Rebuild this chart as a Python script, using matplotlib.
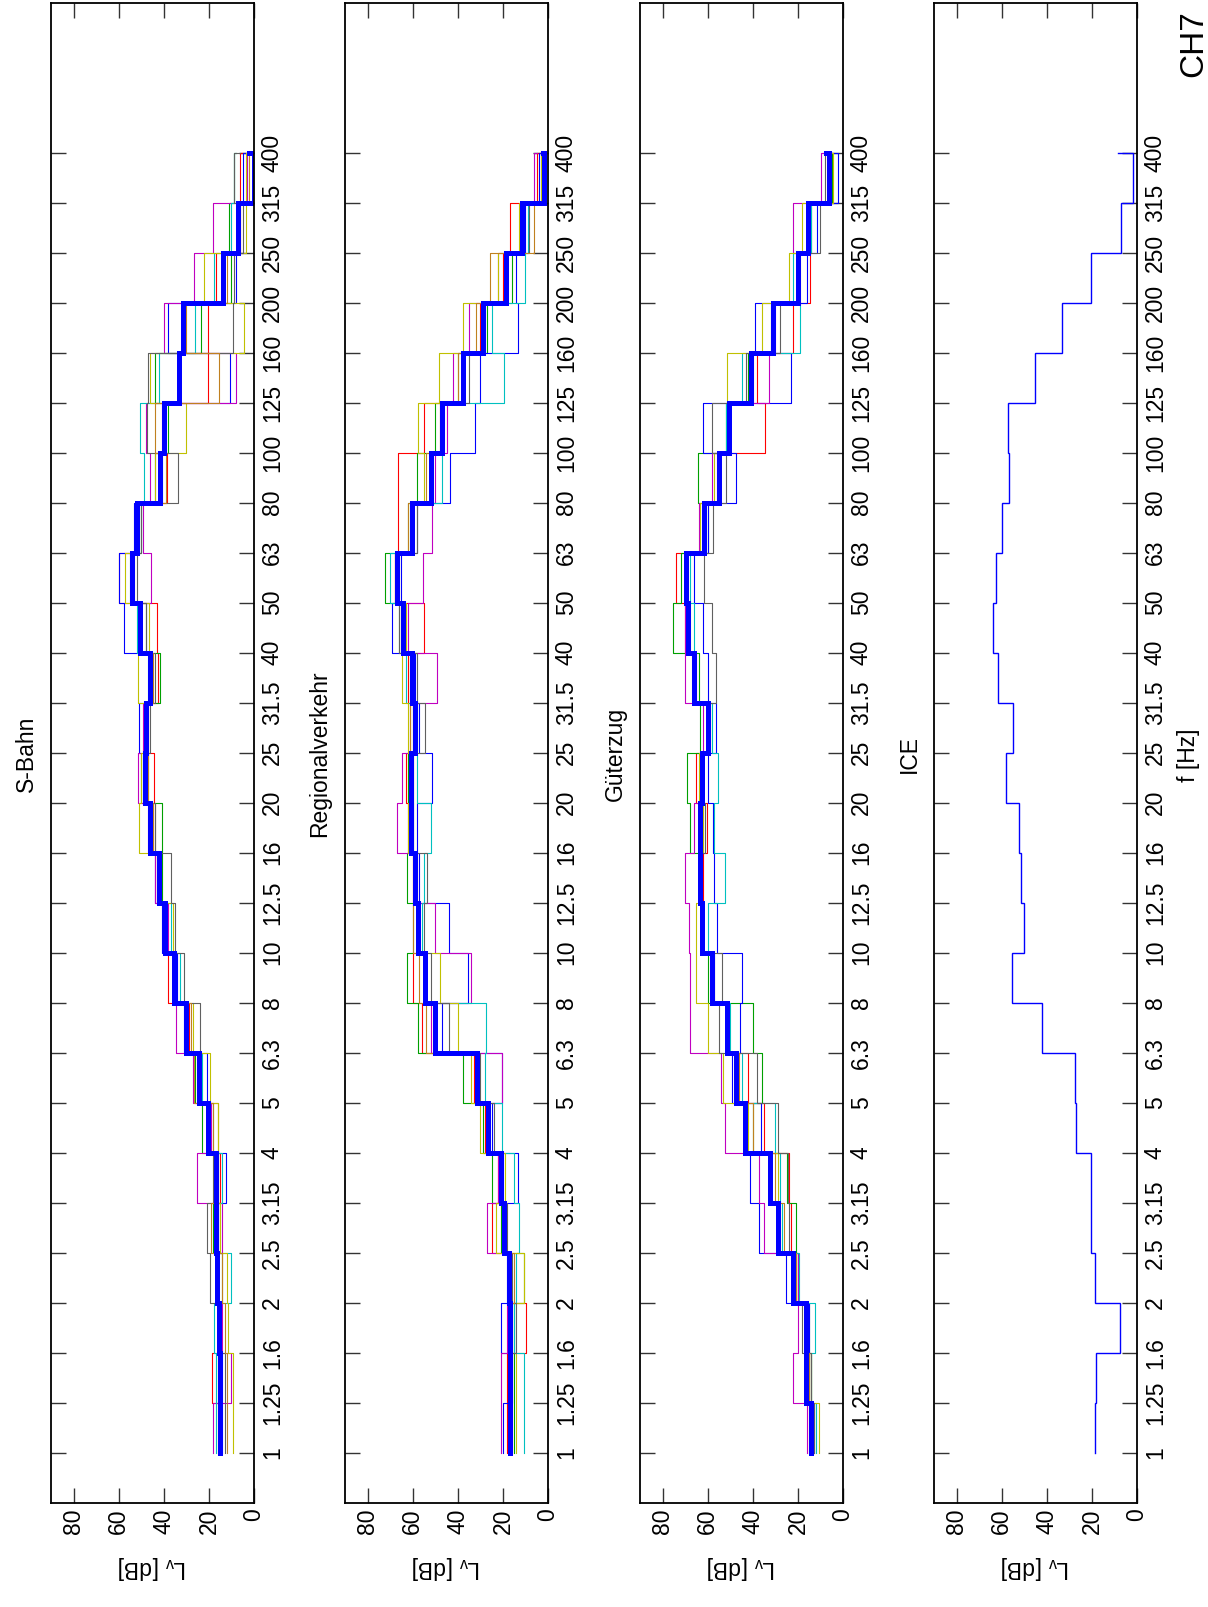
import numpy as np
import matplotlib
matplotlib.use('Agg')
import matplotlib.pyplot as plt

plt.rcParams['font.family'] = ['Liberation Sans', 'DejaVu Sans']
plt.rcParams['mathtext.default'] = 'regular'

# third-octave bands [Hz]
bands = ['1', '1.25', '1.6', '2', '2.5', '3.15', '4', '5', '6.3', '8', '10', '12.5', '16',
         '20', '25', '31.5', '40', '50', '63', '80', '100', '125', '160', '200', '250',
         '315', '400']

thin_colors = ['red', '#00a000', 'blue', '#c000c0', '#00c0c0', '#c0c000', '#606060', '#c08020']

# S-Bahn
sbahn_mean = [15, 15, 15.5, 16.3, 17, 17, 20.3, 24.4, 30.2, 35.6, 39.6, 42.2, 45.9, 48.4, 48.1,
              45.9, 50.4, 54, 51.9, 41.5, 40, 33.3, 31.6, 13.6, 7, 0, 2]
sbahn_red = [16, 18.5, 16, 17, 16, 15, 16, 25, 29, 38, 40, 43, 44, 44.4, 47, 42.5, 43, 60, 52,
             38.5, 41, 20.3, 20.4, 17, 6, 6, 4]
sbahn_green = [15, 16, 15, 14, 18, 17, 23, 26, 30, 36, 39, 41, 41, 48, 48, 41.8, 48, 55, 50, 41,
               38, 44, 23.7, 10.4, 11, 9, 8]
sbahn_blue = [14, 14, 15, 16, 17, 12.6, 20, 21, 31, 34, 41, 44, 46, 50, 51, 46, 57.8, 60, 53, 44,
              40, 10.8, 38, 8, 7, 5, 3]
sbahn_magenta = [18, 10.4, 14, 17, 14.4, 25.2, 19, 27, 34.8, 36, 38, 44, 47, 51.6, 49, 46, 50,
                 45.6, 49, 46, 48, 7.9, 40, 26.7, 18, 3, 2]
sbahn_cyan = [17, 17, 17.8, 10, 16, 14, 18, 23, 30, 33, 37, 42, 46, 49, 48, 47, 52, 54, 50, 48.6,
              50.4, 42, 26, 17.8, 10, 9, 8]
sbahn_olive = [9.3, 9.3, 11.6, 12, 15, 16, 16, 19.7, 27, 35, 36, 42, 51, 50, 47, 51.4, 46.4, 57,
               52, 44, 30, 46, 4.4, 22, 3.7, 3.7, 3]
sbahn_gray = [13, 13, 15, 19.3, 20.7, 18, 20, 24, 24, 31, 35, 36.6, 44, 47, 46, 44, 48, 52, 50,
              33.6, 47.4, 47, 9.3, 9, 5, 8.9, 6]
sbahn_orange = [12, 12, 13, 14, 19, 16, 18, 26.7, 28, 35, 40, 42, 45, 47, 48, 45, 50, 53, 52, 39,
                44, 15.3, 30, 12, 6, 2, 1]

# Regionalverkehr
rv_mean = [16.7, 16.7, 16.7, 17.2, 19.7, 20.9, 26.8, 31.6, 50.1, 54.5, 57.5, 59, 60.7, 60.7, 59,
           60.1, 64.1, 67.1, 60.4, 51.9, 47.1, 37.8, 28.9, 18.7, 11.6, 1.9, 2]
rv_red = [18, 18, 9.8, 17, 25, 22, 28, 33, 56, 60, 58, 60, 62, 63, 61, 62, 54.8, 68, 66.4, 66.4,
          55, 38, 30, 20, 16.7, 5, 2]
rv_green = [15, 15, 15, 10.8, 21, 24.9, 29, 37.8, 57.8, 62.7, 60, 62.7, 60, 62, 60, 61, 66, 72.3,
            62, 58, 50, 40, 27, 16, 12, 2, 1]
rv_blue = [20, 16, 20.9, 18, 20, 13.5, 25, 20.4, 46.8, 35.3, 44.1, 57, 58, 51.6, 57, 59, 69, 65,
           58, 43.4, 32.3, 30, 13.5, 14, 10, 4, 3]
rv_magenta = [20.9, 20.9, 18, 17, 27.1, 22, 27, 20.4, 52, 34, 50, 58, 67.1, 64.9, 60, 49.3, 62,
              55.6, 51.6, 50, 45, 42, 35, 22, 12, 6, 5]
rv_cyan = [10.8, 10.8, 15, 14, 13, 15, 20.4, 28, 27.6, 55, 56, 55, 52, 58, 58, 63, 64, 70, 60, 47,
           47, 19.7, 25, 10.1, 9, 3, 1]
rv_olive = [14, 14, 16, 10.8, 23, 19, 30, 34, 40.1, 48, 57, 59, 62, 61, 62, 64.9, 63, 68, 60, 55,
            57.8, 48.3, 37.8, 22, 13, 3, 2]
rv_gray = [17, 17, 14, 16, 18, 20, 24, 30, 44, 52, 55, 53.8, 60, 60, 54.5, 58, 66, 66, 58, 52, 48,
           35, 28, 18, 8.6, 2, 2]
rv_orange = [16, 16, 17, 15, 20, 21, 26, 32, 54, 57, 60, 60, 61, 60, 61, 60, 65, 68, 62, 54, 48,
             40, 32, 25.9, 6.4, 1, 0]

# Güterzug
gz_mean = [14.4, 16.3, 16.6, 22.3, 29, 32.4, 43.5, 47.5, 51.6, 58.2, 62.4, 63.6, 63.2, 62.7, 59.7,
           66.1, 68.6, 69.8, 61.7, 55, 50.5, 40.9, 30.9, 20.1, 15.6, 6.2, 7.5]
gz_red = [15, 15, 17, 21, 23, 24, 35, 42, 51, 57, 62, 62, 60.2, 65, 60, 65, 70, 74, 62, 56, 34.5,
          38, 22.3, 14.6, 14, 6, 6]
gz_green = [14, 14, 15, 20, 21, 25, 40, 35.7, 40, 60, 63, 64, 68, 69.1, 63.2, 64, 75.3, 72, 60,
            64.2, 52, 42, 32, 20, 16, 5, 5]
gz_blue = [13, 16, 15, 25.3, 37.1, 41.2, 36.4, 49, 45.6, 45, 55.7, 57, 57.7, 60, 56.5, 60, 62, 66,
           60, 47.5, 62.1, 23, 38.9, 16, 11.6, 2.2, 9]
gz_magenta = [16, 22.3, 20, 20, 34.9, 37.1, 52.5, 54.2, 68, 68, 68.4, 70.1, 66, 63, 62, 70.1, 70,
              70, 64, 58, 50, 33, 30, 20, 22, 9.7, 9]
gz_cyan = [12, 14, 12.6, 19.3, 27, 28, 30, 45, 50, 57, 60, 52.3, 57, 55.3, 58, 66, 66, 68, 62, 55,
           52, 45, 19, 22, 14, 6, 6]
gz_olive = [10.7, 14.1, 16, 21, 28, 29, 42, 53, 60, 65, 65, 64, 62, 64, 60, 67, 68, 70, 63.6, 57,
            50, 51.3, 36, 23.8, 18, 4.5, 7]
gz_gray = [13, 14, 18, 22, 24, 24.5, 29, 38.3, 55, 53.5, 62, 63, 61, 62, 59, 56.2, 58.2, 61.7,
           57.7, 52, 58, 43, 28, 20, 10, 8, 8]
gz_orange = [14, 15, 16, 21, 26, 30, 40, 46, 52, 58, 62, 64, 63, 62, 60, 66, 69, 69, 62, 55, 50,
             40, 31, 19, 15, 6, 7]

# ICE
ice_mean = [18.5, 18.1, 7.7, 18.8, 20.4, 20.3, 27.1, 27.7, 41.9, 55.6, 49.9, 51.6, 52.3, 58.2,
            54.8, 61.5, 64, 62.7, 60, 56.7, 57, 45.2, 33.3, 20.4, 7, 1.8, 8.6]

panels = [
    ('S-Bahn', sbahn_mean, [sbahn_red, sbahn_green, sbahn_blue, sbahn_magenta, sbahn_cyan,
                            sbahn_olive, sbahn_gray, sbahn_orange]),
    ('Regionalverkehr', rv_mean, [rv_red, rv_green, rv_blue, rv_magenta, rv_cyan, rv_olive,
                                  rv_gray, rv_orange]),
    ('Güterzug', gz_mean, [gz_red, gz_green, gz_blue, gz_magenta, gz_cyan, gz_olive, gz_gray,
                           gz_orange]),
    ('ICE', ice_mean, []),
]


def steps(vals):
    # gnuplot "steps": value of band i held from band i to band i+1
    idx = np.arange(len(vals))
    return np.repeat(np.asarray(vals, float), 2)[:-1], np.repeat(idx, 2)[1:]


W, H = 1208.0, 1607.0
fig = plt.figure(figsize=(W / 100, H / 100), dpi=100)
lefts = [51, 345, 640, 934]
fs = 16.5

for k, (title, mean, thin) in enumerate(panels):
    ax = fig.add_axes([lefts[k] / W, (H - 1502.7) / H, 203 / W, 1500 / H])
    for vals, c in zip(thin, thin_colors):
        x, y = steps(vals)
        ax.plot(x, y, color=c, lw=0.8)
    x, y = steps(mean)
    ax.plot(x, y, color='blue', lw=3.6 if thin else 1.0, solid_joinstyle='miter')

    ax.set_xlim(90, 0)
    ax.set_ylim(-1, 29)
    ax.set_xticks([0, 20, 40, 60, 80])
    ax.set_yticks(range(len(bands)))
    ax.set_yticklabels(bands)
    ax.tick_params(direction='in', length=11, width=1, color='#333333', labelsize=fs,
                   top=True, bottom=True, left=True, right=True,
                   labelleft=False, labelright=True)
    ax.tick_params(axis='y', pad=5)
    ax.tick_params(axis='x', pad=4)
    for lab in ax.get_yticklabels():
        lab.set_rotation(90)
        lab.set_va('center')
    for lab in ax.get_xticklabels():
        lab.set_rotation(90)
        lab.set_va('top')
        lab.set_ha('center')
    for s in ax.spines.values():
        s.set_linewidth(1.3)

    fig.text((lefts[k] - 25) / W, 1 - 754 / H, title, rotation=90, ha='center', va='center',
             fontsize=fs)
    fig.text((lefts[k] + 101.5) / W, 1 - 1568 / H, r'L$_\mathregular{v}$ [dB]', rotation=180,
             ha='center', va='center', fontsize=fs)

fig.text(1188 / W, 1 - 755 / H, 'f [Hz]', rotation=90, ha='center', va='center', fontsize=fs)
fig.text(1194 / W, 1 - 44 / H, 'CH7', rotation=90, ha='center', va='center', fontsize=24)

fig.savefig('out.png', dpi=100)
